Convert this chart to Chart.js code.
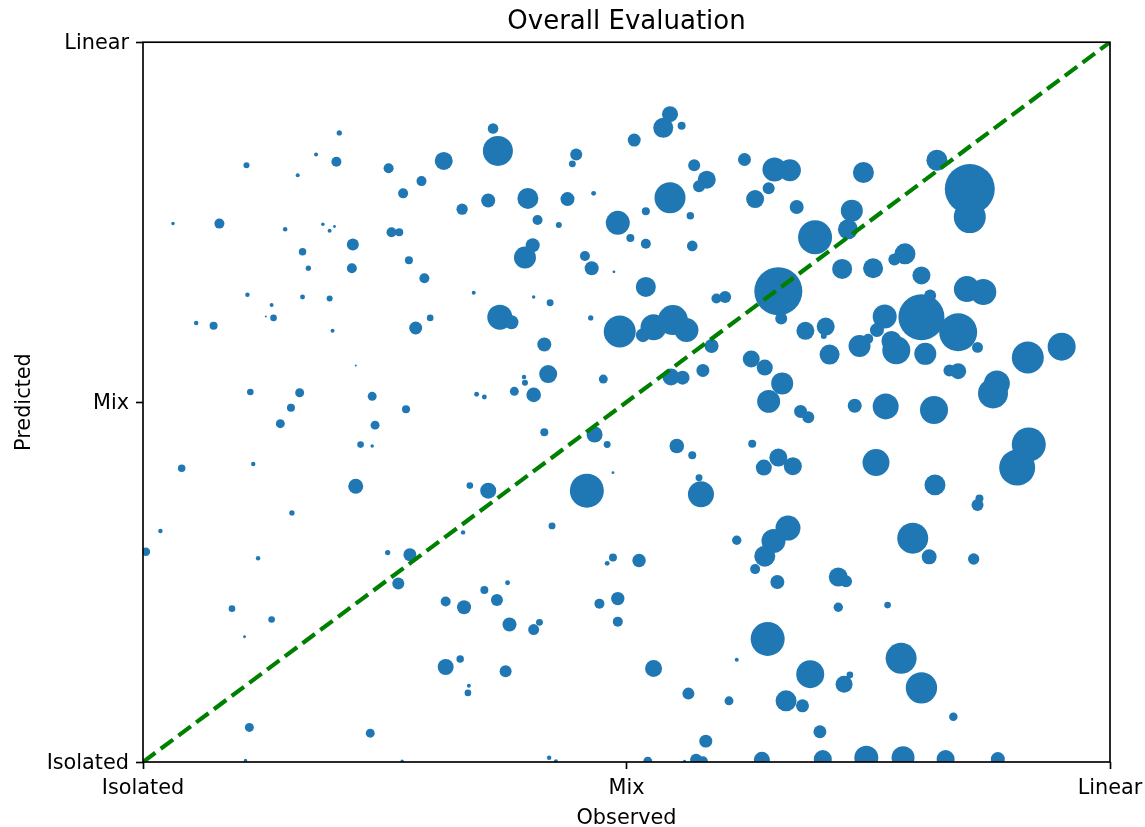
<!DOCTYPE html>
<html>
<head>
<meta charset="utf-8">
<title>Overall Evaluation</title>
<script src="https://cdn.jsdelivr.net/npm/chart.js@4/dist/chart.umd.min.js"></script>
<style>
    html, body { margin: 0; padding: 0; background: #fff; }
    #wrap { width: 1145px; height: 827px; }
</style>
</head>
<body>
<div id="wrap"><canvas id="evalChart" width="1145" height="827"></canvas></div>
<script>
/* ========= DATA ========= */
var tickValues = [0, 0.5, 1];
var tickLabels = ['Isolated', 'Mix', 'Linear'];
var diagonal = [0, 1];

var observed = [
    .203, .179, .200, .107, .254, .160, .311, .288, .269, .330,
    .031, .079, .147, .186, .193, .198, .257, .265, .217, .165,
    .275, .216, .171, .291, .545, .538, .557, .362, .367, .508,
    .448, .444, .622, .570, .583, .575, .653, .669, .647, .633,
    .676, .357, .398, .439, .466, .545, .408, .430, .491, .520,
    .566, .504, .520, .568, .395, .403, .457, .464, .487, .520,
    .745, .821, .855, .855, .733, .729, .695, .723, .755, .788,
    .777, .805, .657, .852, .869, .342, .404, .421, .369, .381,
    .463, .493, .517, .528, .548, .562, .588, .593, .602, .660,
    .415, .419, .394, .395, .384, .404, .345, .353, .476, .546,
    .558, .579, .629, .643, .661, .647, .415, .467, .480, .552,
    .568, .630, .657, .642, .486, .459, .577, .575, .338, .357,
    .423, .767, .805, .814, .843, .863, .759, .685, .706, .704,
    .710, .741, .750, .774, .779, .809, .834, .843, .915, .950,
    .883, .879, .736, .768, .818, .680, .688, .916, .904, .758,
    .672, .819, .863, .865, .108, .165, .193, .133, .055, .073,
    .127, .135, .196, .282, .297, .220, .111, .162, .153, .142,
    .237, .272, .240, .225, .237, .040, .114, .220, .154, .018,
    .003, .119, .253, .276, .264, .331, .313, .332, .092, .133,
    .105, .313, .328, .337, .336, .110, .235, .106, .268, .614,
    .486, .480, .513, .667, .652, .643, .633, .656, .377, .353,
    .366, .472, .491, .491, .379, .410, .404, .375, .528, .646,
    .614, .564, .606, .665, .582, .420, .427, .522, .572, .579,
    .640, .560, .796, .813, .859, .719, .727, .719, .770, .784,
    .805, .690, .725, .731, .682, .838, .700, .703, .748, .786,
    .830, .884
];

var predicted = [
    .874, .844, .834, .829, .825, .815, .835, .807, .790, .768,
    .748, .748, .740, .747, .738, .744, .736, .736, .719, .709,
    .697, .686, .686, .672, .900, .881, .884, .880, .849, .864,
    .844, .831, .837, .829, .809, .800, .823, .822, .797, .782,
    .771, .780, .783, .782, .790, .784, .753, .746, .749, .765,
    .759, .728, .720, .717, .701, .718, .703, .686, .681, .660,
    .819, .836, .796, .757, .766, .740, .729, .685, .686, .706,
    .698, .676, .654, .657, .653, .652, .646, .638, .618, .611,
    .617, .598, .593, .604, .614, .600, .578, .644, .646, .616,
    .580, .539, .535, .527, .515, .510, .511, .507, .532, .535,
    .534, .544, .560, .548, .526, .501, .458, .455, .441, .439,
    .426, .442, .423, .409, .402, .377, .372, .395, .384, .377,
    .328, .619, .618, .648, .597, .576, .600, .599, .605, .592,
    .566, .578, .588, .585, .572, .567, .544, .543, .562, .577,
    .526, .512, .495, .494, .489, .487, .479, .441, .409, .416,
    .411, .385, .357, .366, .649, .646, .644, .635, .610, .606,
    .619, .617, .599, .603, .617, .551, .514, .513, .492, .470,
    .508, .490, .468, .441, .439, .408, .414, .383, .346, .321,
    .292, .283, .291, .288, .248, .319, .223, .215, .213, .198,
    .174, .132, .143, .106, .096, .048, .040, .002, .001, .308,
    .284, .276, .280, .325, .307, .286, .268, .250, .249, .239,
    .225, .220, .227, .195, .191, .194, .184, .126, .130, .171,
    .142, .095, .085, .085, .029, .006, .001, .001, .003, .001,
    .003, .001, .311, .285, .282, .257, .251, .215, .218, .144,
    .103, .122, .108, .121, .078, .063, .042, .004, .006, .006,
    .004, .004
];

var weights = [
    7, 4, 25, 9, 25, 4, 81, 25, 25, 32,
    3, 25, 5, 3, 4, 2, 25, 16, 36, 14,
    16, 25, 7, 25, 64, 100, 16, 28, 225, 42,
    36, 12, 42, 36, 81, 36, 144, 121, 36, 81,
    49, 49, 110, 49, 6, 240, 25, 9, 144, 16,
    14, 16, 25, 28, 121, 49, 25, 49, 2, 100,
    110, 110, 625, 256, 121, 100, 289, 100, 100, 110,
    36, 81, 576, 169, 169, 4, 3, 12, 156, 49,
    7, 256, 49, 169, 225, 144, 49, 25, 36, 36,
    49, 81, 5, 9, 20, 53, 6, 6, 20, 72,
    49, 42, 72, 64, 121, 132, 16, 64, 12, 53,
    16, 16, 81, 64, 2, 289, 169, 12, 11, 64,
    12, 144, 529, 36, 361, 30, 49, 81, 81, 9,
    100, 121, 25, 100, 196, 121, 36, 64, 256, 196,
    169, 225, 49, 169, 196, 42, 36, 289, 324, 182,
    81, 110, 36, 16, 5, 6, 9, 4, 5, 16,
    1, 11, 4, 42, 11, 1, 11, 20, 16, 20,
    20, 16, 20, 11, 3, 14, 5, 56, 7, 5,
    18, 5, 7, 42, 36, 5, 25, 49, 11, 11,
    2, 64, 14, 4, 11, 20, 20, 3, 3, 22,
    16, 6, 45, 156, 144, 110, 25, 49, 6, 16,
    36, 25, 45, 25, 49, 12, 30, 36, 72, 289,
    4, 36, 20, 110, 42, 5, 4, 20, 36, 25,
    64, 2, 240, 56, 32, 90, 36, 22, 11, 240,
    246, 196, 72, 11, 42, 18, 42, 81, 144, 132,
    81, 49
];

/* ========= STYLE ========= */
var FONT = "'DejaVu Sans', 'Liberation Sans', sans-serif";
var INK = '#000000';
var SPINE_W = 1.67;

var bubblePoints = observed.map(function (x, i) {
    return { x: x, y: predicted[i], r: Math.sqrt(weights[i]) };
});
var diagPoints = diagonal.map(function (v) { return { x: v, y: v }; });

// matplotlib style box around the axes
var framePlugin = {
    id: 'frame',
    afterDraw: function (chart) {
        var a = chart.chartArea;
        var ctx = chart.ctx;
        ctx.save();
        ctx.strokeStyle = INK;
        ctx.lineWidth = SPINE_W;
        ctx.strokeRect(a.left, a.top, a.right - a.left, a.bottom - a.top);
        ctx.restore();
    }
};

function axisOptions(titleText, titlePad, labelShift, fitFn) {
    return {
        type: 'linear',
        min: 0,
        max: 1,
        afterBuildTicks: function (scale) {
            scale.ticks = tickValues.map(function (v) { return { value: v }; });
        },
        afterFit: fitFn,
        grid: {
            display: true,
            drawOnChartArea: false,
            drawTicks: true,
            tickLength: 7,
            tickWidth: SPINE_W,
            tickColor: INK
        },
        border: { display: false },
        ticks: {
            padding: 7,
            labelOffset: labelShift,
            color: INK,
            maxRotation: 0,
            autoSkip: false,
            font: { family: FONT, size: 20.8 },
            callback: function (value, index) { return tickLabels[index]; }
        },
        title: {
            display: true,
            text: titleText,
            color: INK,
            font: { family: FONT, size: 20.8 },
            padding: titlePad
        }
    };
}

/* ========= CHART ========= */
new Chart(document.getElementById('evalChart'), {
    type: 'bubble',
    data: {
        datasets: [{
            type: 'line',
            data: diagPoints,
            borderColor: '#008000',
            borderWidth: 4.2,
            borderDash: [15.4, 6.7],
            pointRadius: 0,
            fill: false,
            order: 0
        }, {
            type: 'bubble',
            data: bubblePoints,
            backgroundColor: '#1f77b4',
            borderWidth: 0,
            hoverRadius: 0,
            clip: 0,
            order: 1
        }]
    },
    options: {
        responsive: false,
        animation: false,
        events: [],
        layout: { padding: { left: 0, right: 35, top: 0, bottom: 0 } },
        plugins: {
            legend: { display: false },
            tooltip: { enabled: false },
            title: {
                display: true,
                fullSize: false,
                text: 'Overall Evaluation',
                color: INK,
                font: { family: FONT, size: 26, weight: 'normal' },
                padding: { top: 7, bottom: 4 }
            }
        },
        scales: {
            x: axisOptions('Observed', { top: 4, bottom: -4 }, 0, function (s) {
                s.height = 65;
                s.paddingLeft = 0;
                s.paddingRight = 0;
            }),
            y: axisOptions('Predicted', { top: 12, bottom: 0 }, 1.5, function (s) {
                s.width = 143;
                s.paddingTop = 0;
                s.paddingBottom = 0;
            })
        }
    },
    plugins: [framePlugin]
});
</script>
</body>
</html>
